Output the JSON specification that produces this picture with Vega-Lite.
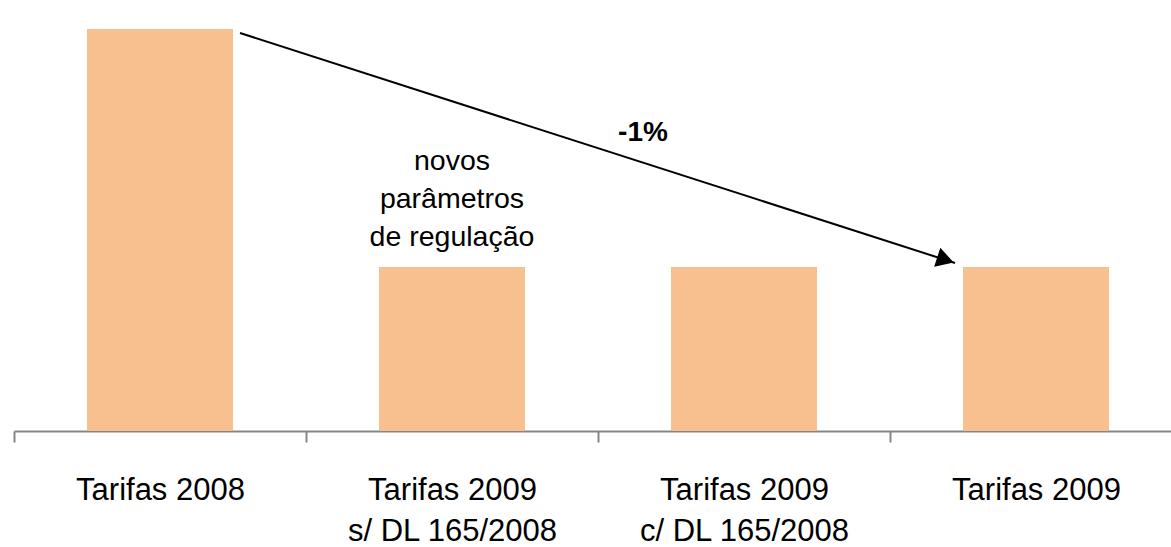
{
  "$schema": "https://vega.github.io/schema/vega-lite/v6.json",
  "width": 1168,
  "height": 402,
  "autosize": {"type": "none"},
  "padding": {"left": 14, "top": 29, "right": 0, "bottom": 116},
  "background": "white",
  "config": {"view": {"stroke": null}, "font": "Liberation Sans"},
  "datasets": {
    "bars": [
      {"cat": "Tarifas 2008", "value": 100, "note": ""},
      {"cat": "Tarifas 2009|s/ DL 165/2008", "value": 40.8, "note": "novos|parâmetros|de regulação"},
      {"cat": "Tarifas 2009|c/ DL 165/2008", "value": 40.8, "note": ""},
      {"cat": "Tarifas 2009", "value": 40.8, "note": ""}
    ],
    "arrow": [
      {"from": "Tarifas 2008", "to": "Tarifas 2009", "v1": 99.0, "v2": 41.8, "head": 42.56}
    ],
    "change": [
      {"cat": "Tarifas 2009|c/ DL 165/2008", "v": 74.1, "label": "-1%"}
    ]
  },
  "layer": [
    {
      "data": {"name": "bars"},
      "mark": {"type": "bar", "color": "#F9C08F", "width": {"band": 0.5}},
      "encoding": {
        "x": {
          "field": "cat",
          "type": "nominal",
          "sort": null,
          "scale": {"paddingInner": 0, "paddingOuter": 0},
          "axis": {
            "title": null,
            "labelExpr": "datum.value ? split(datum.value, '|') : ''",
            "labelAngle": 0,
            "labelFontSize": 31,
            "labelColor": "#000000",
            "labelLineHeight": 41,
            "labelBaseline": "top",
            "labelPadding": 33,
            "labelLimit": 400,
            "tickBand": "extent",
            "tickSize": 11,
            "tickWidth": 2,
            "tickColor": "#868686",
            "domainColor": "#868686",
            "domainWidth": 2
          }
        },
        "y": {
          "field": "value",
          "type": "quantitative",
          "scale": {"domain": [0, 100], "nice": false},
          "axis": null
        }
      }
    },
    {
      "data": {"name": "bars"},
      "mark": {"type": "text", "baseline": "bottom", "align": "center", "fontSize": 28.5, "lineBreak": "|", "lineHeight": 38, "dy": -91, "color": "#000000"},
      "encoding": {
        "x": {"field": "cat", "type": "nominal", "sort": null},
        "y": {"field": "value", "type": "quantitative"},
        "text": {"field": "note"}
      }
    },
    {
      "data": {"name": "arrow"},
      "mark": {"type": "rule", "color": "#000000", "strokeWidth": 2},
      "encoding": {
        "x": {"field": "from", "type": "nominal", "sort": null, "bandPosition": 0.774},
        "x2": {"field": "to", "bandPosition": 0.2226},
        "y": {"field": "v1", "type": "quantitative"},
        "y2": {"field": "v2"}
      }
    },
    {
      "data": {"name": "arrow"},
      "mark": {"type": "point", "shape": "triangle-right", "filled": true, "color": "#000000", "opacity": 1, "size": 400, "angle": 18},
      "encoding": {
        "x": {"field": "to", "type": "nominal", "sort": null, "bandPosition": 0.19},
        "y": {"field": "head", "type": "quantitative"}
      }
    },
    {
      "data": {"name": "change"},
      "mark": {"type": "text", "fontWeight": "bold", "fontSize": 28, "baseline": "middle", "align": "center", "color": "#000000"},
      "encoding": {
        "x": {"field": "cat", "type": "nominal", "sort": null, "bandPosition": 0.154},
        "y": {"field": "v", "type": "quantitative"},
        "text": {"field": "label"}
      }
    }
  ]
}
